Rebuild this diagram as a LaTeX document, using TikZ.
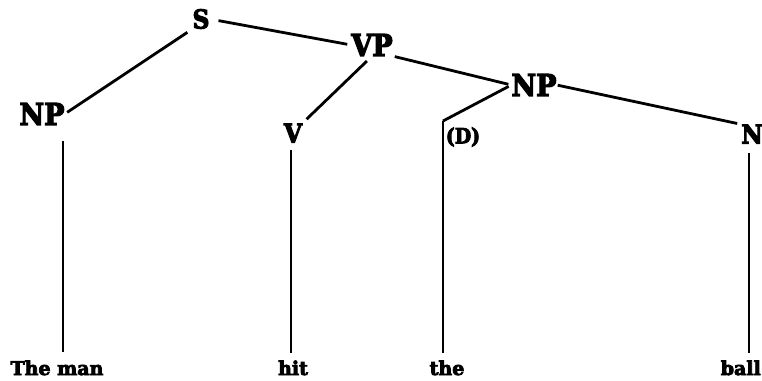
\documentclass[tikz,border=0pt]{standalone}
\usepackage{fontspec}
\newfontfamily\condf[FakeBold=4]{DejaVu Serif Condensed Bold}
\newfontfamily\widef[FakeBold=4]{DejaVu Serif Bold}
\begin{document}
\begin{tikzpicture}[x=1pt,y=-1pt,
  bigl/.style={inner sep=0pt, font=\condf\fontsize{30}{30}\selectfont},
  midl/.style={inner sep=0pt, font=\condf\fontsize{26}{26}\selectfont},
  smalll/.style={inner sep=0pt, font=\condf\fontsize{21}{21}\selectfont},
  word/.style={inner sep=0pt, anchor=base, font=\widef\fontsize{19}{19}\selectfont},
  edge/.style={line width=2.8pt},
  stem/.style={line width=2.2pt}
]
\useasboundingbox (0,0) rectangle (762,380);
% tree labels
\node[midl]  (S)   at (201,19)  {S};
\node[bigl]  (VP)  at (372,45)  {VP};
\node[bigl]  (NPl) at (42,114)  {NP};
\node[bigl]  (NPr) at (534,85)  {NP};
\node[midl]  (V)   at (293,133) {V};
\node[smalll](D)   at (463,137) {(D)};
\node[midl]  (N)   at (752,134) {N};
% words
\node[word]  (man)  at (57,375)  {The man};
\node[word]  (hit)  at (293,375) {hit};
\node[word]  (the)  at (447,375) {the};
\node[word, anchor=base east] (ball) at (761,375) {ball};
\coordinate (dtop) at (443,121);
% branches
\draw[edge, shorten <=9pt, shorten >=4pt] (S.east) -- (VP.west);
\draw[edge, shorten <=6pt, shorten >=3pt] (S.south west) -- (NPl.east);
\draw[edge, shorten <=7pt, shorten >=6pt] (VP.south) -- (V.north east);
\draw[edge, shorten <=2pt, shorten >=3pt] (VP.south east) -- (NPr.west);
\draw[edge, shorten <=3pt] (NPr.west) -- (dtop);
\draw[edge, shorten <=1pt, shorten >=4pt] (NPr.east) -- (N.north west);
% stems
\draw[stem, shorten <=16pt, shorten >=8pt] ([xshift=-2pt]NPl.south east) -- ([xshift=-2pt]NPl.south east |- man.north);
\draw[stem, shorten <=7pt, shorten >=7pt] ([xshift=-2pt]V.south) -- ([xshift=-2pt]V.south |- hit.north);
\draw[stem, shorten >=7pt] (dtop) -- (dtop |- the.north);
\draw[stem, shorten <=9pt, shorten >=7pt] ([xshift=-3pt]N.south) -- ([xshift=-3pt]N.south |- ball.north);
\end{tikzpicture}
\end{document}
